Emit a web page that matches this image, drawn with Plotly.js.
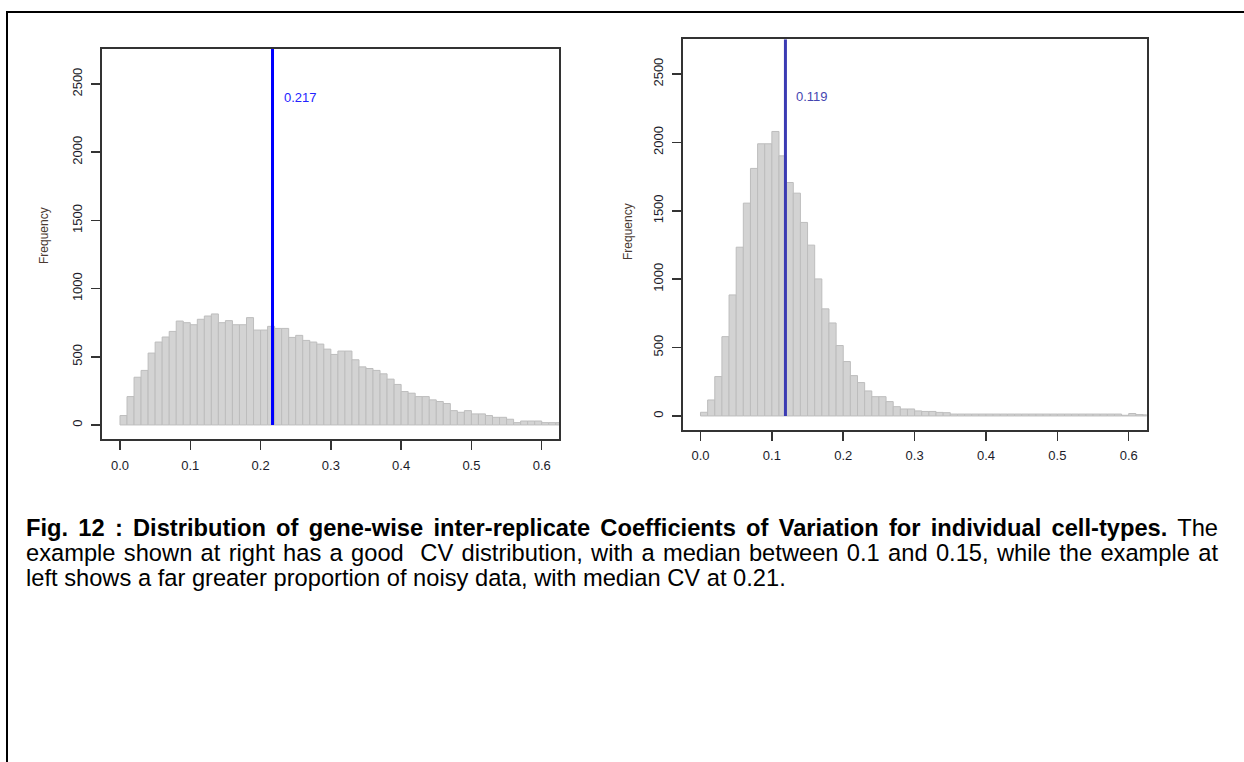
<!DOCTYPE html>
<html>
<head>
<meta charset="utf-8">
<script src="https://cdn.plot.ly/plotly-3.0.1.min.js"></script>
<style>
  html, body { margin: 0; padding: 0; background: #fff; }
  #page { position: relative; width: 1244px; height: 762px; overflow: hidden; background: #fff; }
  #chart { position: absolute; left: 0; top: 0; width: 1244px; height: 762px; }
  #frame { position: absolute; left: 6px; top: 11px; width: 1300px; height: 800px;
           border-left: 2px solid #000; border-top: 2px solid #000; pointer-events: none; }
  #caption { position: absolute; left: 26px; top: 516px; width: 1192px;
             font-family: Arial, "Liberation Sans", sans-serif; font-size: 23.7px;
             line-height: 24.8px; color: #000; }
  #caption .j { text-align: justify; text-align-last: justify; white-space: normal; }
</style>
</head>
<body>
<div id="page">
  <div id="chart"></div>
  <div id="frame"></div>
  <div id="caption">
    <div class="j"><b>Fig. 12 : Distribution of gene-wise inter-replicate Coefficients of Variation for individual cell-types.</b> The</div>
    <div class="j">example shown at right has a good&nbsp; CV distribution, with a median between 0.1 and 0.15, while the example at</div>
    <div>left shows a far greater proportion of noisy data, with median CV at 0.21.</div>
  </div>
</div>
<script>
// Histogram counts per CV bin (bins of width 0.01 starting at 0.00)
const binWidth = 0.01;

// Left panel: noisier cell type
const leftCounts = [69, 208, 350, 400, 527, 608, 645, 686, 762, 750,
                    735, 775, 799, 814, 750, 765, 735, 735, 787, 696,
                    696, 723, 708, 708, 642, 657, 620, 608, 593, 556,
                    517, 542, 542, 478, 426, 414, 400, 375, 336, 297,
                    245, 233, 208, 208, 184, 172, 157, 105, 93, 105,
                    81, 81, 69, 56, 56, 42, 17, 29, 29, 29,
                    17, 17, 17];
const leftMedian = 0.217;

// Right panel: well-behaved cell type
const rightCounts = [27, 117, 288, 580, 885, 1234, 1556, 1810, 1990, 1990,
                     2080, 1902, 1707, 1629, 1415, 1249, 1002, 783, 680, 515,
                     398, 295, 244, 183, 141, 141, 105, 68, 51, 51,
                     37, 33, 33, 26, 24, 14, 14, 14, 14, 14,
                     14, 14, 14, 14, 14, 14, 14, 14, 14, 14,
                     14, 14, 14, 14, 14, 14, 14, 14, 14, 5,
                     18, 10, 8];
const rightMedian = 0.119;

const xTickVals = [0, 0.1, 0.2, 0.3, 0.4, 0.5, 0.6];
const xTickText = ['0.0', '0.1', '0.2', '0.3', '0.4', '0.5', '0.6'];
const yTickVals = [0, 500, 1000, 1500, 2000, 2500];
const yTickText = ['0', '500', '1000', '1500', '2000', '2500'];
const yTitle = 'Frequency';

const W = 1244, H = 762;
const binCenters = counts => counts.map((_, i) => i * binWidth + binWidth / 2);

const barStyle = {
  type: 'bar',
  width: binWidth,
  marker: { color: '#d3d3d3', line: { color: '#bdbdbd', width: 1 } },
  hoverinfo: 'skip',
  showlegend: false
};

const traces = [
  Object.assign({}, barStyle, { x: binCenters(leftCounts), y: leftCounts, xaxis: 'x', yaxis: 'y' }),
  Object.assign({}, barStyle, { x: binCenters(rightCounts), y: rightCounts, xaxis: 'x2', yaxis: 'y2' })
];

const tickFont = { family: 'Arial, "Liberation Sans", sans-serif', size: 13, color: '#1c1c2a' };

function xAxis(px0, px1, range, anchor) {
  return {
    domain: [px0 / W, px1 / W], range: range, anchor: anchor,
    showline: true, mirror: true, linecolor: '#333', linewidth: 2,
    ticks: 'outside', ticklen: 9, tickwidth: 1.5, tickcolor: '#333',
    tickvals: xTickVals, ticktext: xTickText, tickfont: tickFont,
    ticklabelstandoff: 4,
    showgrid: false, zeroline: false, fixedrange: true
  };
}
function yAxis(py0, py1, range, anchor) {
  return {
    domain: [1 - py1 / H, 1 - py0 / H], range: range, anchor: anchor,
    showline: true, mirror: true, linecolor: '#333', linewidth: 2,
    ticks: 'outside', ticklen: 9, tickwidth: 1.5, tickcolor: '#333',
    tickvals: yTickVals, ticktext: yTickText, tickfont: tickFont, tickangle: -90,
    ticklabelstandoff: 4,
    showgrid: false, zeroline: false, fixedrange: true
  };
}

const leftY = [-103, 2757];
const rightY = [-99, 2754];

const layout = {
  width: W, height: H,
  margin: { l: 0, r: 0, t: 0, b: 0, pad: 0 },
  paper_bgcolor: 'rgba(0,0,0,0)',
  plot_bgcolor: '#fff',
  bargap: 0,
  xaxis: xAxis(102, 559, [-0.0256, 0.6246], 'y'),
  yaxis: yAxis(49, 439, leftY, 'x'),
  xaxis2: xAxis(683.3, 1146.7, [-0.0241, 0.6252], 'y2'),
  yaxis2: yAxis(39.3, 429.5, rightY, 'x2'),
  shapes: [
    { type: 'line', xref: 'x', yref: 'y', x0: leftMedian, x1: leftMedian, y0: 0, y1: leftY[1],
      line: { color: '#0000ff', width: 3 } },
    { type: 'line', xref: 'x2', yref: 'y2', x0: rightMedian, x1: rightMedian, y0: 0, y1: rightY[1],
      line: { color: '#3b3bb3', width: 3 } }
  ],
  annotations: [
    { xref: 'x', yref: 'y', x: 0.2301, y: 2403, text: leftMedian.toFixed(3), showarrow: false,
      xanchor: 'left', yanchor: 'middle',
      font: { family: 'Arial, "Liberation Sans", sans-serif', size: 13, color: '#2323ff' } },
    { xref: 'x2', yref: 'y2', x: 0.1311, y: 2334, text: rightMedian.toFixed(3), showarrow: false,
      xanchor: 'left', yanchor: 'middle',
      font: { family: 'Arial, "Liberation Sans", sans-serif', size: 13, color: '#4545b0' } },
    { xref: 'paper', yref: 'paper', x: 44 / W, y: 1 - 236 / H, text: yTitle, showarrow: false,
      textangle: -90, xanchor: 'center', yanchor: 'middle',
      font: { family: 'Arial, "Liberation Sans", sans-serif', size: 12, color: '#4a3a32' } },
    { xref: 'paper', yref: 'paper', x: 628 / W, y: 1 - 231 / H, text: yTitle, showarrow: false,
      textangle: -90, xanchor: 'center', yanchor: 'middle',
      font: { family: 'Arial, "Liberation Sans", sans-serif', size: 12, color: '#4a3a32' } }
  ]
};

Plotly.newPlot('chart', traces, layout, { staticPlot: true, displayModeBar: false });
</script>
</body>
</html>
